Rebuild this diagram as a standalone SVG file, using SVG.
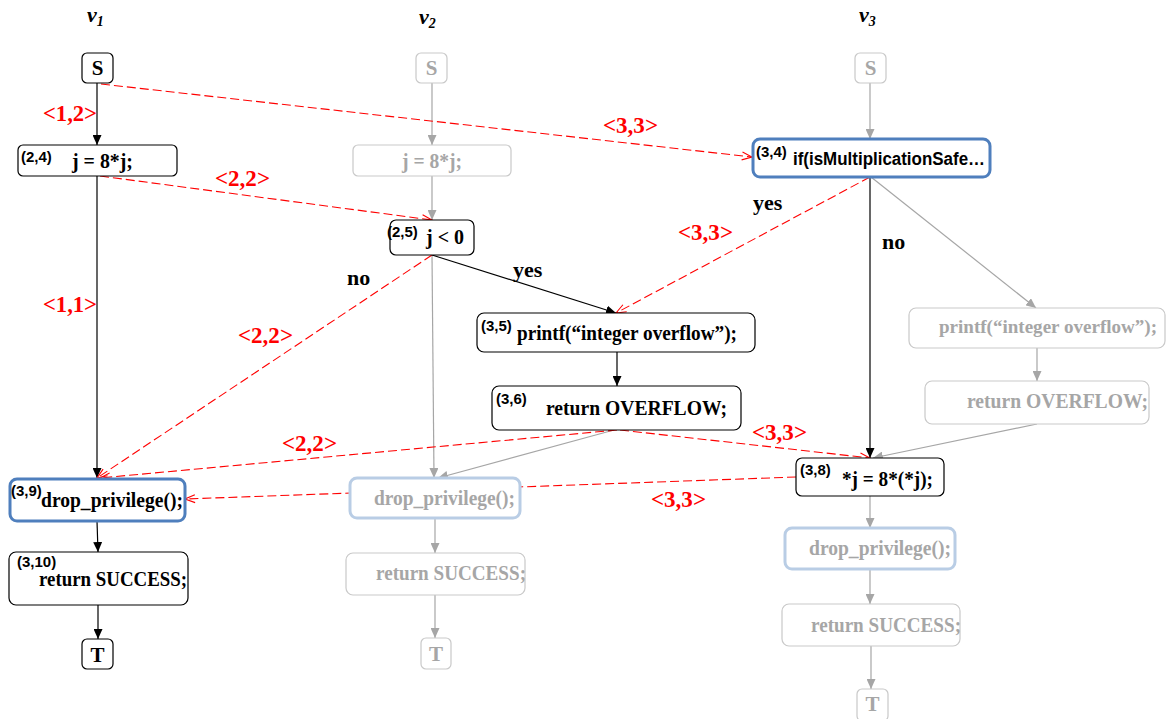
<svg xmlns="http://www.w3.org/2000/svg" width="1168" height="719" viewBox="0 0 1168 719">
<style>
.bk{fill:#fff;stroke:#000;stroke-width:1.2}
.gy{fill:#fff;stroke:#c9c9c9;stroke-width:1.2}
.bl{fill:#fff;stroke:#4f7fbd;stroke-width:3}
.lb{fill:#fff;stroke:#b9cde5;stroke-width:3}
.t{font-family:"Liberation Serif",serif;font-weight:bold;font-size:21px;fill:#000}
.tg{font-family:"Liberation Serif",serif;font-weight:bold;font-size:21px;fill:#a6a6a6}
.sup{font-family:"Liberation Sans",sans-serif;font-weight:bold;font-size:15px;fill:#000}
.sans{font-family:"Liberation Sans",sans-serif;font-weight:bold;font-size:18px;fill:#000}
.red{font-family:"Liberation Serif",serif;font-weight:bold;font-size:23px;fill:#ff0000}
.lbl{font-family:"Liberation Serif",serif;font-weight:bold;font-size:22px;fill:#000}
.v{font-family:"Liberation Serif",serif;font-style:italic;font-weight:bold;font-size:22px;fill:#000}
.m{text-anchor:middle}
.cb{fill:none;stroke:#000;stroke-width:1.2}
.cg{fill:none;stroke:#a6a6a6;stroke-width:1.2}
.cr{fill:none;stroke:#ff0000;stroke-width:1.1;stroke-dasharray:9 4}
</style>
<defs>
<marker id="ab" viewBox="0 0 10 9" refX="10" refY="4.5" markerWidth="10" markerHeight="9" markerUnits="userSpaceOnUse" orient="auto"><path d="M0,0 L10,4.5 L0,9 z" fill="#000"/></marker>
<marker id="ag" viewBox="0 0 10 9" refX="10" refY="4.5" markerWidth="10" markerHeight="9" markerUnits="userSpaceOnUse" orient="auto"><path d="M0,0 L10,4.5 L0,9 z" fill="#a6a6a6"/></marker>
<marker id="ar" viewBox="-1 -1 12 10" refX="10" refY="4" markerWidth="12" markerHeight="10" markerUnits="userSpaceOnUse" orient="auto"><path d="M0,0 L10,4 L0,8" fill="none" stroke="#ff0000" stroke-width="1.1"/></marker>
</defs>

<g id="headers">
<text class="v" x="87" y="22">v<tspan font-size="14" dy="4">1</tspan></text>
<text class="v" x="419" y="24">v<tspan font-size="14" dy="4">2</tspan></text>
<text class="v" x="859" y="22">v<tspan font-size="14" dy="4">3</tspan></text>
</g>

<g id="connectors">
<path class="cg" d="M432,83 V145" marker-end="url(#ag)"/>
<path class="cg" d="M432,176 V220" marker-end="url(#ag)"/>
<path class="cg" d="M432,255 L434,478" marker-end="url(#ag)"/>
<path class="cg" d="M614,430 L438,478" marker-end="url(#ag)"/>
<path class="cg" d="M435,518 V553" marker-end="url(#ag)"/>
<path class="cg" d="M435,595 V638" marker-end="url(#ag)"/>
<path class="cg" d="M870,83 V139" marker-end="url(#ag)"/>
<path class="cg" d="M871,177 L1036,308" marker-end="url(#ag)"/>
<path class="cg" d="M1037,348 V381" marker-end="url(#ag)"/>
<path class="cg" d="M1037,424 L873,458" marker-end="url(#ag)"/>
<path class="cg" d="M870,496 V528" marker-end="url(#ag)"/>
<path class="cg" d="M870,569 V604" marker-end="url(#ag)"/>
<path class="cg" d="M871,646 V689" marker-end="url(#ag)"/>

<path class="cb" d="M97,83 V145" marker-end="url(#ab)"/>
<path class="cb" d="M97,176 V478" marker-end="url(#ab)"/>
<path class="cb" d="M97,521 L98,552" marker-end="url(#ab)"/>
<path class="cb" d="M98,605 V639" marker-end="url(#ab)"/>
<path class="cb" d="M432,255 L616,313" marker-end="url(#ab)"/>
<path class="cb" d="M617,352 V386" marker-end="url(#ab)"/>
<path class="cb" d="M870,177 V458" marker-end="url(#ab)"/>

<path class="cr" d="M101,84 L752,157" marker-end="url(#ar)"/>
<path class="cr" d="M100,176 L432,220" marker-end="url(#ar)"/>
<path class="cr" d="M432,255 L97,478" marker-end="url(#ar)"/>
<path class="cr" d="M870,177 L616,313" marker-end="url(#ar)"/>
<path class="cr" d="M617,430 L100,478" marker-end="url(#ar)"/>
<path class="cr" d="M620,430 L870,458" marker-end="url(#ar)"/>
<path class="cr" d="M796,477 L185,499" marker-end="url(#ar)"/>
</g>

<g id="v1-S"><rect class="bk" x="82" y="53" width="31" height="30" rx="5"/><text class="t m" x="97.5" y="75">S</text></g>
<g id="v1-n24"><rect class="bk" x="18" y="145" width="159" height="31" rx="5"/><text class="sup" x="21" y="162">(2,4)</text><text class="t" x="72" y="168" textLength="61" lengthAdjust="spacingAndGlyphs">j = 8*j;</text></g>
<g id="v1-n39"><rect class="bl" x="10" y="479" width="175" height="42" rx="7"/><text class="sup" x="11" y="496">(3,9)</text><text class="t" x="41" y="507" textLength="142" lengthAdjust="spacingAndGlyphs">drop_privilege();</text></g>
<g id="v1-n310"><rect class="bk" x="9" y="552" width="179" height="53" rx="7"/><text class="sup" x="17" y="567">(3,10)</text><text class="t" x="39" y="586" textLength="148" lengthAdjust="spacingAndGlyphs">return SUCCESS;</text></g>
<g id="v1-T"><rect class="bk" x="82" y="639" width="31" height="30" rx="5"/><text class="t m" x="97.5" y="662">T</text></g>

<g id="v2-S"><rect class="gy" x="416" y="53" width="31" height="30" rx="5"/><text class="tg m" x="431.5" y="75">S</text></g>
<g id="v2-j"><rect class="gy" x="353" y="145" width="158" height="31" rx="5"/><text class="tg" x="402" y="168" textLength="60" lengthAdjust="spacingAndGlyphs">j = 8*j;</text></g>
<g id="v2-n25"><rect class="bk" x="390" y="220" width="84" height="35" rx="6"/><text class="sup" x="387" y="237">(2,5)</text><text class="t" x="426" y="244" textLength="38" lengthAdjust="spacingAndGlyphs">j &lt; 0</text></g>
<g id="v2-drop"><rect class="lb" x="350" y="478" width="170" height="40" rx="7"/><text class="tg" x="374" y="505" textLength="141" lengthAdjust="spacingAndGlyphs">drop_privilege();</text></g>
<g id="v2-ret"><rect class="gy" x="346" y="553" width="179" height="42" rx="7"/><text class="tg" x="376" y="580" textLength="150" lengthAdjust="spacingAndGlyphs">return SUCCESS;</text></g>
<g id="v2-T"><rect class="gy" x="421" y="638" width="30" height="31" rx="5"/><text class="tg m" x="436" y="661">T</text></g>

<g id="n35"><rect class="bk" x="477" y="313" width="278" height="39" rx="7"/><text class="sup" x="481" y="331">(3,5)</text><text class="t" x="517" y="340" textLength="220" lengthAdjust="spacingAndGlyphs">printf(“integer overflow”);</text></g>
<g id="n36"><rect class="bk" x="492" y="386" width="249" height="44" rx="7"/><text class="sup" x="496" y="404">(3,6)</text><text class="t" x="546" y="415" textLength="181" lengthAdjust="spacingAndGlyphs">return OVERFLOW;</text></g>

<g id="v3-S"><rect class="gy" x="855" y="53" width="31" height="30" rx="5"/><text class="tg m" x="870.5" y="75">S</text></g>
<g id="v3-n34"><rect class="bl" x="753" y="139" width="237" height="38" rx="7"/><text class="sup" x="756" y="157">(3,4)</text><text class="sans" x="793" y="165" textLength="192" lengthAdjust="spacingAndGlyphs">if(isMultiplicationSafe…</text></g>
<g id="v3-printf"><rect class="gy" x="909" y="308" width="256" height="40" rx="7"/><text class="tg" x="939" y="333" font-size="19" style="font-size:19px" textLength="218" lengthAdjust="spacingAndGlyphs">printf(“integer overflow”);</text></g>
<g id="v3-retovf"><rect class="gy" x="925" y="381" width="224" height="43" rx="7"/><text class="tg" x="967" y="408" textLength="181" lengthAdjust="spacingAndGlyphs">return OVERFLOW;</text></g>
<g id="v3-n38"><rect class="bk" x="796" y="458" width="148" height="38" rx="6"/><text class="sup" x="800" y="475">(3,8)</text><text class="t" x="842" y="486" textLength="91" lengthAdjust="spacingAndGlyphs">*j = 8*(*j);</text></g>
<g id="v3-drop"><rect class="lb" x="785" y="528" width="170" height="41" rx="7"/><text class="tg" x="809" y="555" textLength="142" lengthAdjust="spacingAndGlyphs">drop_privilege();</text></g>
<g id="v3-ret"><rect class="gy" x="782" y="604" width="178" height="42" rx="7"/><text class="tg" x="811" y="632" textLength="150" lengthAdjust="spacingAndGlyphs">return SUCCESS;</text></g>
<g id="v3-T"><rect class="gy" x="857" y="689" width="31" height="32" rx="5"/><text class="tg m" x="872.5" y="711">T</text></g>

<g id="labels">
<text class="red" x="43" y="121" textLength="54" lengthAdjust="spacingAndGlyphs">&lt;1,2&gt;</text>
<text class="red" x="43" y="312" textLength="54" lengthAdjust="spacingAndGlyphs">&lt;1,1&gt;</text>
<text class="red" x="215" y="186" textLength="55" lengthAdjust="spacingAndGlyphs">&lt;2,2&gt;</text>
<text class="red" x="603" y="133" textLength="55" lengthAdjust="spacingAndGlyphs">&lt;3,3&gt;</text>
<text class="red" x="238" y="343" textLength="55" lengthAdjust="spacingAndGlyphs">&lt;2,2&gt;</text>
<text class="red" x="678" y="240" textLength="55" lengthAdjust="spacingAndGlyphs">&lt;3,3&gt;</text>
<text class="red" x="282" y="451" textLength="55" lengthAdjust="spacingAndGlyphs">&lt;2,2&gt;</text>
<text class="red" x="752" y="440" textLength="55" lengthAdjust="spacingAndGlyphs">&lt;3,3&gt;</text>
<text class="red" x="651" y="507" textLength="55" lengthAdjust="spacingAndGlyphs">&lt;3,3&gt;</text>
<text class="lbl" x="347" y="285">no</text>
<text class="lbl" x="513" y="277">yes</text>
<text class="lbl" x="753" y="210">yes</text>
<text class="lbl" x="882" y="249">no</text>
</g>
</svg>
